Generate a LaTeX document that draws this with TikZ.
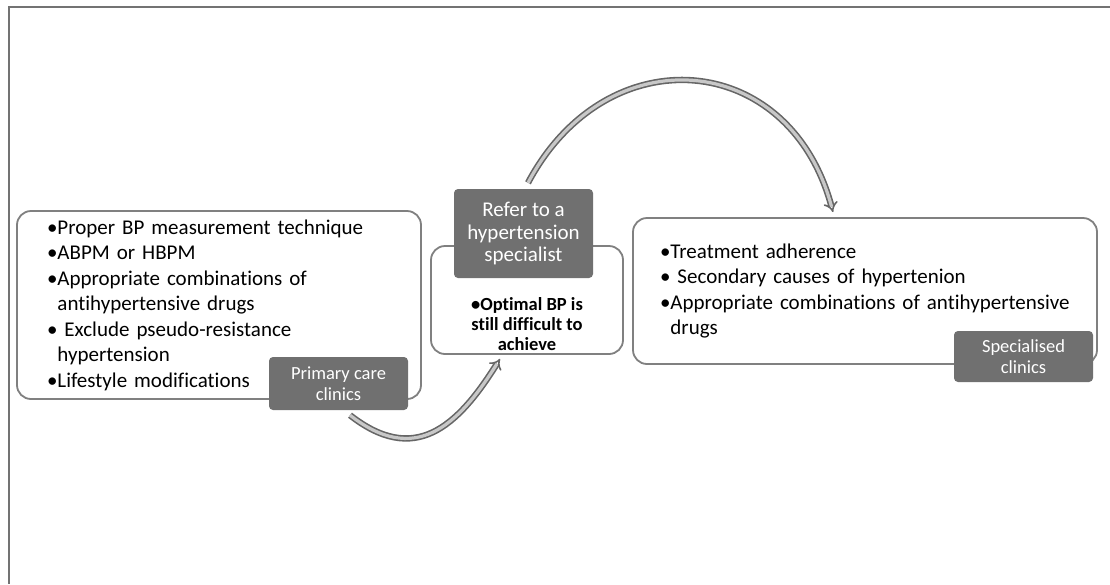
\documentclass[tikz,border=0pt]{standalone}
\usepackage{fontspec}
\setmainfont{Carlito}[Ligatures=NoCommon]
\usepackage{xcolor}
\usetikzlibrary{arrows.meta}
\definecolor{boxline}{RGB}{128,128,128}
\definecolor{tagfill}{RGB}{112,112,112}
\definecolor{arrowcore}{RGB}{200,200,200}

\begin{document}
\begin{tikzpicture}[x=1pt,y=-1pt,
  listbox/.style={draw=boxline, line width=1.8pt, rounded corners=14pt, fill=white, align=left, font=\fontsize{21}{25.5}\selectfont},
  tagbox/.style={fill=tagfill, rounded corners=4pt, text=white, align=center, minimum width=139pt, inner sep=2pt, font=\fontsize{18.5}{20.5}\selectfont},
  flow/.style={draw=black!60, line width=1.6pt, double=arrowcore, double distance=3.2pt, -{Implies}}]
\useasboundingbox (0,0) rectangle (1110,584);
\draw[line width=1.5pt, black!55] (1110,7) -| (9,584);
\node[listbox, text width=344pt, minimum width=404pt, minimum height=188pt, inner xsep=30pt] (primbox) at (219,305) {%
•Proper BP measurement technique\\
•ABPM or HBPM\\
•Appropriate combinations of\\
\phantom{•}antihypertensive drugs\\
• Exclude pseudo-resistance\\
\phantom{•}hypertension\\
•Lifestyle modifications};
\node[tagbox, minimum height=53pt] (primtag) at (338.5,383.5) {Primary care\\clinics};
\node[listbox, minimum width=192pt, minimum height=108pt] (midbox) at (527,300) {};
\node[font=\bfseries\fontsize{18.5}{20}\selectfont, align=center, anchor=south] (midtext) at ([yshift=1pt]midbox.south) {•Optimal BP is\\still difficult to\\achieve};
\node[tagbox, minimum height=89pt, font=\fontsize{21}{22.5}\selectfont] (refer) at (523.5,233.5) {Refer to a\\hypertension\\specialist};
\node[listbox, text width=410pt, minimum width=464pt, minimum height=146pt, inner xsep=27pt] (specbox) at (865,291) {%
•Treatment adherence\\
• Secondary causes of hypertenion\\
•Appropriate combinations of antihypertensive\\
\phantom{•}drugs};
\node[tagbox, minimum height=51pt] (spectag) at (1023.5,356.5) {Specialised\\clinics};
\draw[flow] ([xshift=11.5pt,yshift=-5pt]primtag.south) to[out=-38,in=-122,looseness=1.3] ([xshift=-27pt,yshift=-4pt]midbox.south);
\draw[flow] ([xshift=4.5pt,yshift=6pt]refer.north) to[out=62,in=105,looseness=1.4] ([xshift=-32pt,yshift=5pt]specbox.north);
\end{tikzpicture}
\end{document}
